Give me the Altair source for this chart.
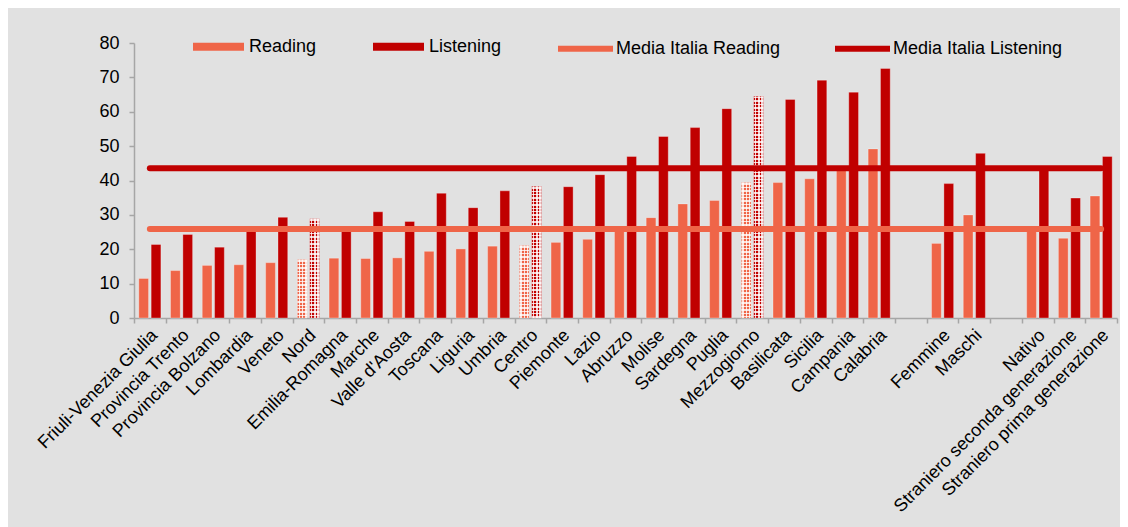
import altair as alt
import pandas as pd

categories = ["Friuli-Venezia Giulia", "Provincia Trento", "Provincia Bolzano", "Lombardia", "Veneto",
              "Nord", "Emilia-Romagna", "Marche", "Valle d'Aosta", "Toscana", "Liguria", "Umbria",
              "Centro", "Piemonte", "Lazio", "Abruzzo", "Molise", "Sardegna", "Puglia", "Mezzogiorno",
              "Basilicata", "Sicilia", "Campania", "Calabria", " ", "Femmine", "Maschi", "  ",
              "Nativo", "Straniero seconda generazione", "Straniero prima generazione"]
reading = [11.5, 13.8, 15.3, 15.5, 16.1, 17.0, 17.4, 17.3, 17.5, 19.4, 20.1, 20.9, 21.1, 22.0, 22.9,
           26.5, 29.2, 33.2, 34.2, 39.4, 39.4, 40.5, 42.9, 49.2, None, 21.7, 30.0, None, 26.0, 23.2, 35.5]
listening = [21.4, 24.3, 20.6, 25.8, 29.3, 28.9, 25.5, 30.9, 28.1, 36.3, 32.1, 37.0, 38.3, 38.2, 41.7,
             47.0, 52.8, 55.4, 60.9, 64.5, 63.6, 69.2, 65.7, 72.6, None, 39.1, 47.9, None, 43.8, 34.9, 47.0]
media_reading = 25.9
media_listening = 43.6
patterned = ["Nord", "Centro", "Mezzogiorno"]

RC = "#EF6548"
LC = "#C00000"
BG = "#E1E1E1"
AX = "#A6A6A6"
FONT = "Liberation Sans"
PLOT_H = 275
Y_MAX = 80

rows = []
for c, r, l in zip(categories, reading, listening):
    if r is not None:
        rows.append({"cat": c, "series": "Reading", "value": r})
    if l is not None:
        rows.append({"cat": c, "series": "Listening", "value": l})
bar_df = pd.DataFrame(rows)

line_df = pd.DataFrame({
    "cat": [categories[0], categories[-1], categories[0], categories[-1]],
    "series": ["Media Italia Reading"] * 2 + ["Media Italia Listening"] * 2,
    "value": [media_reading, media_reading, media_listening, media_listening],
})

x_scale = alt.Scale(domain=categories, paddingInner=0, paddingOuter=0)
xo_scale = alt.Scale(domain=["Reading", "Listening"], paddingInner=0.21, paddingOuter=0.39)
y_scale = alt.Scale(domain=[0, Y_MAX])

x_axis = alt.Axis(labelAngle=-45, labelAlign="right", labelBaseline="top", labelPadding=3,
                  labelOffset=-2, tickBand="extent", tickSize=5, tickColor=AX, domainColor=AX,
                  domainWidth=1.5, tickWidth=1.5, labelFontSize=18, labelFont=FONT,
                  labelColor="#000000", grid=False, labelOverlap=False, labelLimit=1000,
                  title=None)
y_axis = alt.Axis(values=[0, 10, 20, 30, 40, 50, 60, 70, 80], tickSize=5, tickColor=AX,
                  domainColor=AX, domainWidth=1.5, tickWidth=1.5, labelFontSize=18,
                  labelFont=FONT, labelColor="#000000", labelPadding=10, grid=False, title=None)

enc_x = alt.X("cat:N", scale=x_scale, axis=x_axis)
enc_xo = alt.XOffset("series:N", scale=xo_scale)
enc_y = alt.Y("value:Q", scale=y_scale, axis=y_axis)

bars = alt.Chart(bar_df).mark_bar(stroke="white", strokeOpacity=0.3, strokeWidth=1).encode(
    x=enc_x, xOffset=enc_xo, y=enc_y,
    color=alt.Color("series:N", scale=alt.Scale(domain=["Reading", "Listening"], range=[RC, LC]),
                    legend=alt.Legend(orient="none", legendX=59, legendY=-22, direction="horizontal",
                                      title=None, symbolType="M-1,-0.16H1V0.16H-1Z",
                                      symbolSize=2601, symbolStrokeWidth=0, labelFontSize=18,
                                      labelFont=FONT, labelColor="#000000", labelOffset=5,
                                      labelLimit=1000, columnPadding=56)),
)

T = "rgba(255,255,255,0)"
W = "rgba(255,255,255,0.8)"


def hstripes(value, period=3.4, band=1.4):
    h = value / Y_MAX * PLOT_H
    stops = [alt.GradientStop(color=T, offset=0)]
    k = 0
    while True:
        s = (k * period + 0.8) / h
        e = (k * period + 0.8 + band) / h
        if e >= 1:
            break
        stops += [alt.GradientStop(color=T, offset=s), alt.GradientStop(color=W, offset=s),
                  alt.GradientStop(color=W, offset=e), alt.GradientStop(color=T, offset=e)]
        k += 1
    stops.append(alt.GradientStop(color=T, offset=1))
    return alt.LinearGradient(gradient="linear", x1=0, y1=0, x2=0, y2=1, stops=stops)


vstops = [alt.GradientStop(color=T, offset=0)]
for s, e in [(0.12, 0.28), (0.45, 0.61), (0.78, 0.94)]:
    vstops += [alt.GradientStop(color=T, offset=s), alt.GradientStop(color=W, offset=s),
               alt.GradientStop(color=W, offset=e), alt.GradientStop(color=T, offset=e)]
vstops.append(alt.GradientStop(color=T, offset=1))
vgrad = alt.LinearGradient(gradient="linear", x1=0, y1=0, x2=1, y2=0, stops=vstops)

overlays = []
for c in patterned:
    for s in ["Reading", "Listening"]:
        sub = bar_df[(bar_df["cat"] == c) & (bar_df["series"] == s)]
        v = float(sub["value"].iloc[0])
        overlays.append(alt.Chart(sub).mark_bar(fill=hstripes(v), strokeWidth=0).encode(
            x=enc_x, xOffset=enc_xo, y=enc_y))
        overlays.append(alt.Chart(sub).mark_bar(fill=vgrad, strokeWidth=0).encode(
            x=enc_x, xOffset=enc_xo, y=enc_y))

lines = alt.Chart(line_df).mark_line(strokeWidth=6, strokeCap="round").encode(
    x=enc_x, y=enc_y,
    stroke=alt.Stroke("series:N",
                      scale=alt.Scale(domain=["Media Italia Reading", "Media Italia Listening"],
                                      range=[RC, LC]),
                      legend=alt.Legend(orient="none", legendX=421, legendY=-25,
                                        direction="horizontal", title=None, symbolType="stroke",
                                        symbolSize=3025, symbolStrokeWidth=6, labelFontSize=18,
                                        labelFont=FONT, labelColor="#000000", labelOffset=0,
                                        labelLimit=1000, columnPadding=42)),
)

chart = alt.layer(bars, *overlays, lines).properties(
    width=983, height=PLOT_H,
    padding={"left": 126, "top": 35, "right": 3, "bottom": 209},
    autosize=alt.AutoSizeParams(type="none"),
).resolve_scale(color="independent").configure(background=BG).configure_view(stroke="transparent")

chart.save("out.html", embed_options={"renderer": "svg", "actions": False})
